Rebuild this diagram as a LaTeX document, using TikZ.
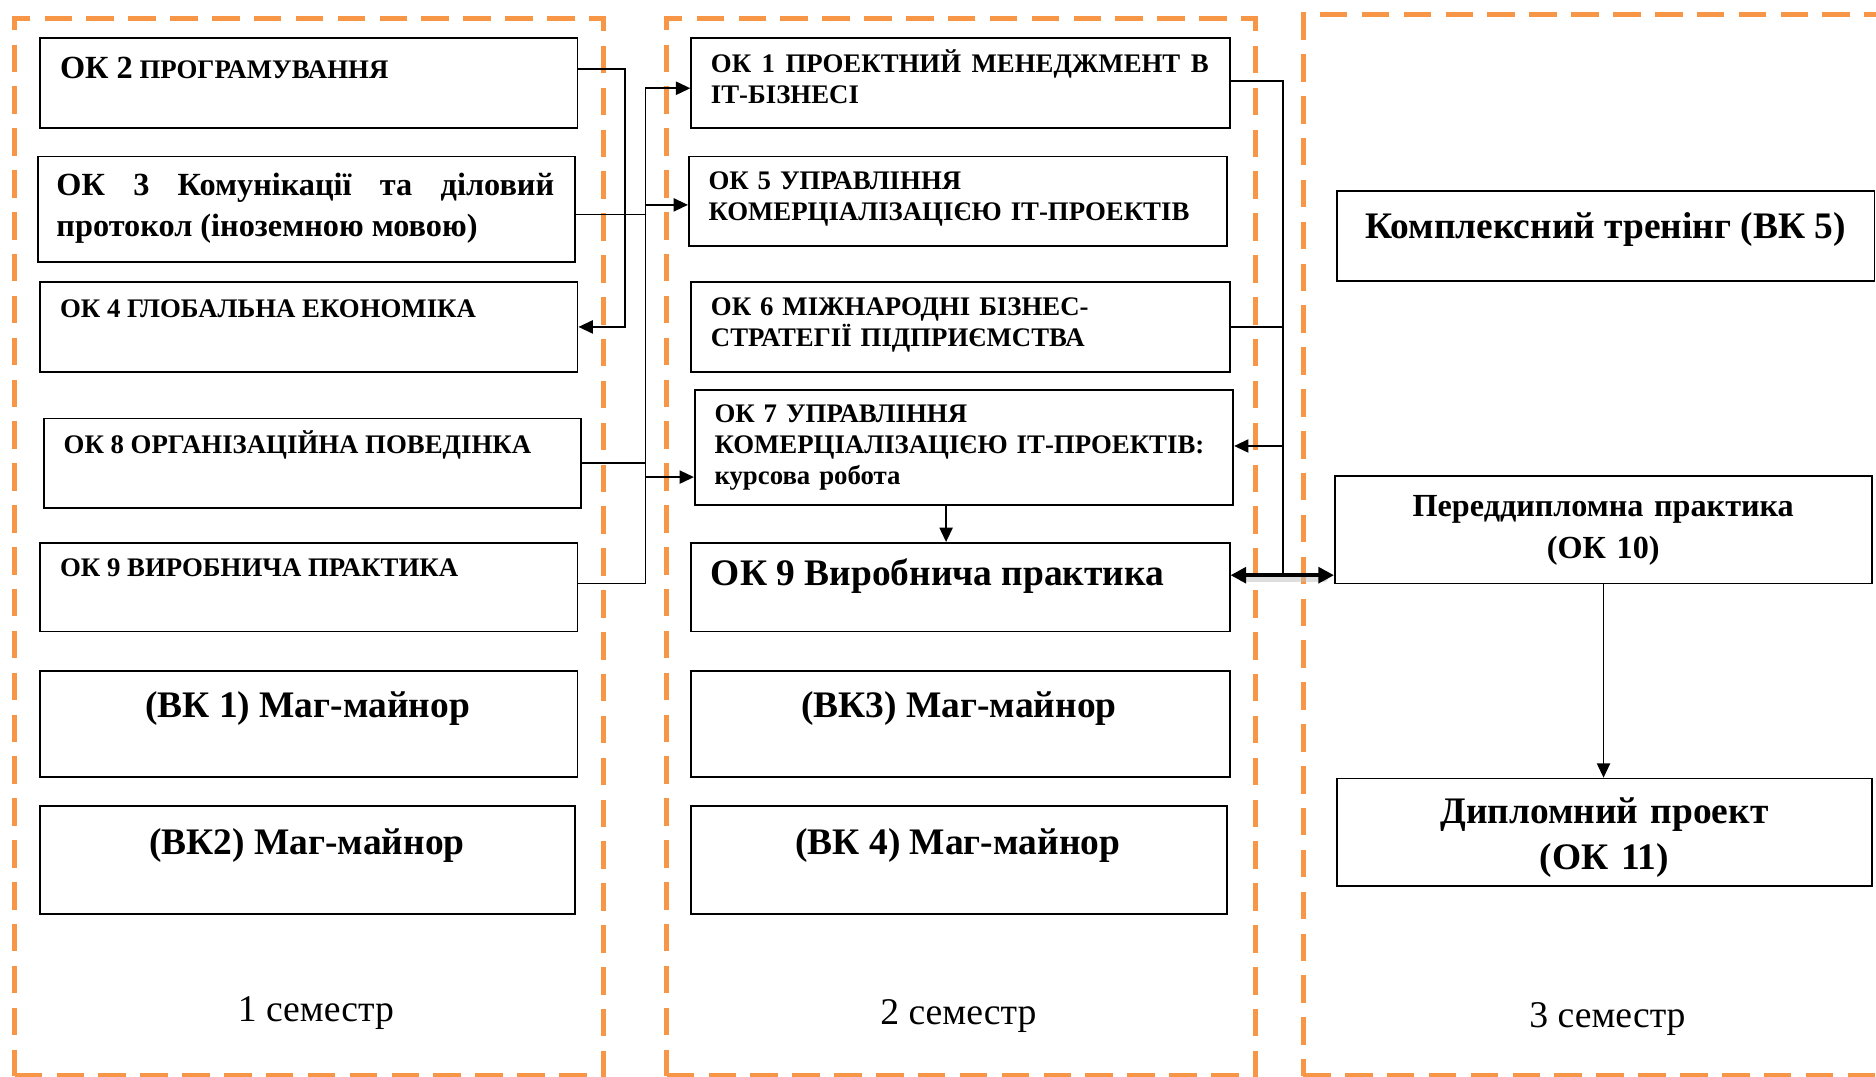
\documentclass[tikz,border=0pt]{standalone}
\usepackage{fontspec}
\setmainfont{Liberation Serif}
\usetikzlibrary{arrows.meta,calc}
\definecolor{semor}{HTML}{F79646}
\begin{document}
\begin{tikzpicture}[x=1pt,y=-1pt,
  semb/.style={draw=semor, line width=4.5pt, dash pattern=on 23pt off 12pt, inner sep=0pt, anchor=north west},
  box/.style={draw, line width=1.5pt, inner sep=0pt, anchor=north west},
  lbl/.style={inner sep=0pt, anchor=base west, font=\bfseries\fontsize{22.4}{26}\selectfont},
  big/.style={inner sep=0pt, anchor=base, font=\bfseries\fontsize{31.3}{38.8}\selectfont},
  semt/.style={inner sep=0pt, anchor=base, font=\fontsize{31.5}{36}\selectfont},
  conn/.style={line width=1.5pt},
  arr/.style={conn, -{Triangle[length=12pt,width=11pt]}},
  dbl/.style={line width=3.3pt, {Triangle[length=13pt,width=13pt]}-{Triangle[length=13pt,width=13pt]}},
  dblshadow/.style={line width=6pt, draw=black!25, opacity=0.5, line cap=round},
]
\clip (0,0) rectangle (1568,900);
\fill[white] (0,0) rectangle (1568,900);
% semester frames
\node[semb, minimum width=492pt, minimum height=884pt] (fr1) at (10,13) {};
\node[semb, minimum width=492pt, minimum height=884pt] (fr2) at (555,13) {};
\node[semb, minimum width=520pt, minimum height=887pt] (fr3) at (1087,10) {};
% column 1 boxes
\node[box, minimum width=449pt, minimum height=75pt] (ok2) at (33,31) {};
\node[box, minimum width=449pt, minimum height=88pt] (ok3) at (31,130) {};
\node[box, minimum width=449pt, minimum height=75pt] (ok4) at (33,235) {};
\node[box, minimum width=449pt, minimum height=75pt] (ok8) at (36,349) {};
\node[box, minimum width=449pt, minimum height=74pt] (ok9a) at (33,453) {};
\node[box, minimum width=449pt, minimum height=89pt] (vk1) at (33,560) {};
\node[box, minimum width=447pt, minimum height=90pt] (vk2) at (33,673) {};
% column 2 boxes
\node[box, minimum width=450pt, minimum height=75pt] (ok1) at (577,31) {};
\node[box, minimum width=450pt, minimum height=75pt] (ok5) at (575,130) {};
\node[box, minimum width=450pt, minimum height=75pt] (ok6) at (577,235) {};
\node[box, minimum width=450pt, minimum height=96pt] (ok7) at (580,325) {};
\node[box, minimum width=450pt, minimum height=74pt] (ok9b) at (577,453) {};
\node[box, minimum width=450pt, minimum height=89pt] (vk3) at (577,560) {};
\node[box, minimum width=448pt, minimum height=90pt] (vk4) at (577,673) {};
% column 3 boxes
\node[box, minimum width=449pt, minimum height=75pt] (vk5) at (1117,159) {};
\node[box, minimum width=449pt, minimum height=90pt] (ok10) at (1115,397) {};
\node[box, minimum width=447pt, minimum height=90pt] (ok11) at (1117,650) {};
% texts column 1
\node[lbl] (ok2t) at (50,65.7) {{\fontsize{27}{30}\selectfont ОК 2} ПРОГРАМУВАННЯ};
\node[lbl, font=\bfseries\fontsize{27}{33.7}\selectfont, text width=416pt, align=justify] (ok3t) at (47,163.8) {ОК 3 Комунікації та діловий\linebreak протокол (іноземною мовою)};
\node[lbl] (ok4t) at (50,265) {ОК 4 ГЛОБАЛЬНА ЕКОНОМІКА};
\node[lbl] (ok8t) at (53,379) {ОК 8 ОРГАНІЗАЦІЙНА ПОВЕДІНКА};
\node[lbl] (ok9at) at (50,481.8) {ОК 9 ВИРОБНИЧА ПРАКТИКА};
\node[big] (vk1t) at (257,600) {(ВК 1) Маг-майнор};
\node[big] (vk2t) at (256.5,714) {(ВК2) Маг-майнор};
% texts column 2
\node[lbl, font=\bfseries\fontsize{22.4}{25.5}\selectfont, text width=416pt, align=justify] (ok1t) at (594,61) {ОК 1 ПРОЕКТНИЙ МЕНЕДЖМЕНТ В\linebreak ІТ-БІЗНЕСІ};
\node[lbl, text width=430pt, align=left] (ok5t) at (592,158.6) {ОК 5 УПРАВЛІННЯ\\КОМЕРЦІАЛІЗАЦІЄЮ ІТ-ПРОЕКТІВ};
\node[lbl, text width=430pt, align=left] (ok6t) at (594,263.8) {ОК 6 МІЖНАРОДНІ БІЗНЕС-\\СТРАТЕГІЇ ПІДПРИЄМСТВА};
\node[lbl, text width=430pt, align=left] (ok7t) at (597,353) {ОК 7 УПРАВЛІННЯ\\КОМЕРЦІАЛІЗАЦІЄЮ ІТ-ПРОЕКТІВ:\\курсова робота};
\node[lbl, font=\bfseries\fontsize{31.3}{36}\selectfont] (ok9bt) at (594,489) {ОК 9 Виробнича практика};
\node[big] (vk3t) at (801.5,600) {(ВК3) Маг-майнор};
\node[big] (vk4t) at (800.5,714) {(ВК 4) Маг-майнор};
% texts column 3
\node[big] (vk5t) at (1342,199) {Комплексний тренінг (ВК 5)};
\node[big, font=\bfseries\fontsize{26.9}{35}\selectfont, text width=440pt, align=center] (ok10t) at (1340,432) {Переддипломна практика\\(ОК 10)};
\node[big, text width=440pt, align=center] (ok11t) at (1341,688) {Дипломний проект\\(ОК 11)};
% semester labels
\node[semt] (s1t) at (264,853.7) {1 семестр};
\node[semt] (s2t) at (801,856.6) {2 семестр};
\node[semt] (s3t) at (1343.5,858.6) {3 семестр};
% connectors, semester 1
\draw[arr] ([yshift=11.5pt]ok2.east) -- ++(39,0) |- (ok4.east);
\coordinate (b1) at ($(ok2.east)+(56,4.5)$);
\draw[conn] ([yshift=3pt]ok9a.east) -| (b1);
\draw[conn] ([yshift=-4.5pt]ok3.east) -- ([yshift=-4.5pt]ok3.east -| b1);
\draw[conn] (ok8.east) -- (ok8.east -| b1);
\draw[arr] (b1) -- (b1 -| ok1.west);
\draw[arr] ([yshift=-3pt]ok5.west -| b1) -- ([yshift=-3pt]ok5.west);
\draw[arr] ([yshift=-25pt]ok7.west -| b1) -- ([yshift=-25pt]ok7.west);
% connectors, semester 2
\coordinate (c1) at ($(ok1.east)+(44,-1.5)$);
\coordinate (c2) at ([yshift=10pt]ok9b.east -| c1);
\draw[conn] ([yshift=1.5pt]ok1.east) -- (c1) -- (c2);
\draw[conn] (ok6.east) -- (ok6.east -| c1);
\draw[arr] ([yshift=1pt]ok7.east -| c1) -- ([yshift=1pt]ok7.east);
\draw[arr] ([xshift=-15pt]ok7.south) -- ([xshift=-15pt]ok7.south |- ok9b.north);
\draw[dblshadow] ([xshift=10pt,yshift=7pt]ok9b.east) -- ([xshift=-8pt,yshift=7pt]ok9b.east -| ok10.west);
\draw[dbl] ([yshift=10pt]ok9b.east) -- ([yshift=10pt]ok9b.east -| ok10.west);
% semester 3
\draw[arr] (ok10.south) -- (ok10.south |- ok11.north);
\end{tikzpicture}
\end{document}
